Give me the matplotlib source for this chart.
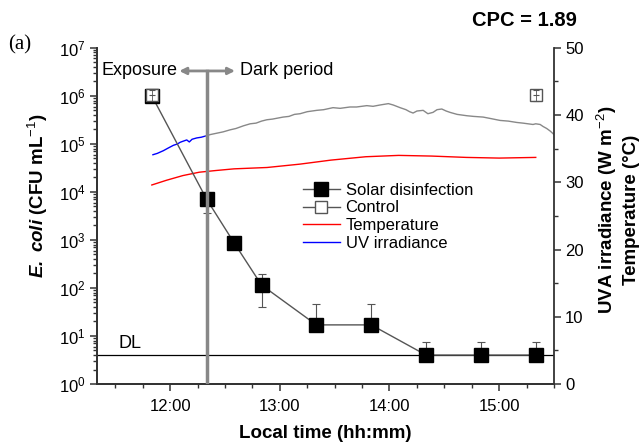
import matplotlib
matplotlib.use('Agg')
import matplotlib.pyplot as plt
import numpy as np
from matplotlib.lines import Line2D
from matplotlib.ticker import FuncFormatter, LogLocator, NullFormatter, MultipleLocator

plt.rcParams['font.family'] = ['Liberation Sans', 'DejaVu Sans']
plt.rcParams['mathtext.fontset'] = 'custom'
plt.rcParams['mathtext.rm'] = 'Liberation Sans'
plt.rcParams['mathtext.it'] = 'Liberation Sans:italic'
plt.rcParams['mathtext.bf'] = 'Liberation Sans:bold'
plt.rcParams['mathtext.bfit'] = 'Liberation Sans:italic:bold'

# E. coli counts (CFU/mL)
solar_time = ['11:50', '12:20', '12:35', '12:50', '13:20', '13:50', '14:20', '14:50', '15:20']
solar_cfu = [1.0e6, 7.0e3, 870, 115, 17, 17, 4, 4, 4]
solar_err_lo = [0, 3.4e3, 0, 75, 0, 0, 0, 0, 0]
solar_err_hi = [0, 0, 0, 80, 29, 29, 3.5, 3.5, 3.5]

control_time = ['11:50', '15:20']
control_cfu = [1.05e6, 1.05e6]
control_err = [2.5e5, 2.5e5]

detection_limit = 4

# UVA irradiance (W/m2): exposure part and dark part
uv_exp_time = ['11:50.6', '11:53', '11:56.3', '11:59', '12:01.8', '12:04', '12:05.5',
               '12:07', '12:09.1', '12:10.5', '12:12', '12:14.6', '12:17', '12:19.6']
uv_exp_val = [34.1, 34.3, 34.7, 35.1, 35.5, 35.7, 35.95, 36.1, 36.3, 36.0, 36.4, 36.6, 36.7, 36.9]

uv_dark_time = ['12:19.6', '12:22', '12:25.5', '12:29', '12:32.8', '12:36', '12:40.1',
                '12:43.8', '12:47', '12:50', '12:52.9', '12:56', '13:01.8', '13:05',
                '13:08', '13:11.1', '13:15', '13:20.2', '13:24', '13:29.1', '13:33',
                '13:38.4', '13:42', '13:47.6', '13:51', '13:54.9', '13:59.4', '14:02',
                '14:05.8', '14:09', '14:11', '14:12.9', '14:15', '14:18.4', '14:21',
                '14:23.8', '14:26', '14:28.6', '14:31', '14:33.1', '14:37', '14:42.3',
                '14:46', '14:51.2', '14:55', '15:00.5', '15:05', '15:09.6', '15:13',
                '15:18.5', '15:20', '15:22.4', '15:24', '15:26', '15:28', '15:30']
uv_dark_val = [36.9, 37.1, 37.3, 37.5, 37.8, 38.0, 38.4,
               38.7, 38.8, 39.1, 39.3, 39.4, 39.7, 39.8,
               40.1, 40.2, 40.5, 40.7, 40.8, 41.1, 41.0,
               41.2, 41.2, 41.4, 41.3, 41.5, 41.7, 41.5,
               41.1, 40.8, 40.5, 40.3, 40.6, 40.7, 40.2,
               40.4, 40.8, 40.9, 40.6, 40.4, 40.1, 39.9,
               39.8, 39.7, 39.5, 39.2, 39.1, 38.9, 38.8,
               38.6, 38.7, 38.6, 38.3, 38.0, 37.6, 37.1]

# water temperature (C)
temp_time = ['11:50', '11:58', '12:07', '12:16', '12:25', '12:35', '12:53', '13:11',
             '13:28', '13:47', '14:05', '14:23', '14:42', '15:00', '15:20']
temp_val = [29.6, 30.3, 31.0, 31.5, 31.75, 32.0, 32.2, 32.7,
            33.3, 33.8, 34.0, 33.9, 33.7, 33.6, 33.7]

dark_start = '12:20'


def hrs(s):
    h, m = s.split(':')
    return int(h) + float(m) / 60


def fmt_time(v, pos):
    h = int(v)
    m = int(round((v - h) * 60))
    if m == 60:
        h, m = h + 1, 0
    return '{:02d}:{:02d}'.format(h, m)


grey = '#555555'
axcol = '#333333'

fig = plt.figure(figsize=(6.44, 4.47), dpi=100)
ax = fig.add_axes([0.1506, 0.141, 0.7097, 0.752])
ax2 = ax.twinx()

# right axis lines
ax2.plot([hrs(t) for t in temp_time], temp_val, color='red', lw=1.0)
ax2.plot([hrs(t) for t in uv_exp_time], uv_exp_val, color='blue', lw=1.0)
ax2.plot([hrs(t) for t in uv_dark_time], uv_dark_val, color='#888888', lw=1.0)
ax2.set_ylim(0, 50)

# left axis: counts (drawn on ax2 so they sit above the right-axis lines)
st = [hrs(t) for t in solar_time]
ax2.errorbar(st, solar_cfu, yerr=[solar_err_lo, solar_err_hi], fmt='none',
             ecolor=grey, elinewidth=0.8, capsize=3, capthick=0.8, transform=ax.transData)
ax2.plot(st, solar_cfu, color=grey, lw=1.0, marker='s', ms=10, mfc='black', mec='black',
         transform=ax.transData, zorder=3)
ct = [hrs(t) for t in control_time]
ax2.plot(ct, control_cfu, ls='none', marker='s', ms=8, mfc='white', mec=grey, mew=1.0,
         transform=ax.transData, zorder=4)
ax2.errorbar(ct, control_cfu, yerr=control_err, fmt='_', ms=5, mew=0.8, color=grey,
             ecolor=grey, elinewidth=0.6, capsize=2.5, capthick=0.8,
             transform=ax.transData, zorder=5)

ax.set_yscale('log')
ax.set_ylim(1, 1e7)
ax.set_xlim(hrs('11:20'), hrs('15:30'))

ax.axhline(detection_limit, color='black', lw=0.9)
ax.text(hrs('11:32'), 4.6, 'DL', fontsize=13, va='bottom', ha='left')

# exposure / dark period marker
arrow_y = 3.3e6
ax2.plot([hrs(dark_start), hrs(dark_start)], [1, arrow_y], color='#888888', lw=2.5,
         transform=ax.transData, zorder=6)
ax.annotate('', xy=(hrs('12:05'), arrow_y), xytext=(hrs('12:35.5'), arrow_y),
            arrowprops=dict(arrowstyle='<|-|>', color='#888888', lw=2, mutation_scale=10,
                            shrinkA=0, shrinkB=0))
ax.text(hrs('12:04'), arrow_y, 'Exposure', fontsize=13, ha='right', va='center')
ax.text(hrs('12:38'), arrow_y, 'Dark period', fontsize=13, ha='left', va='center')

# ticks
ax.xaxis.set_major_locator(MultipleLocator(1))
ax.xaxis.set_minor_locator(MultipleLocator(0.25))
ax.xaxis.set_major_formatter(FuncFormatter(fmt_time))
ax.yaxis.set_major_locator(LogLocator(base=10, numticks=20))
ax.yaxis.set_minor_locator(LogLocator(base=10, subs=np.arange(2, 10), numticks=100))
ax.yaxis.set_minor_formatter(NullFormatter())
ax2.yaxis.set_major_locator(MultipleLocator(10))
ax2.yaxis.set_minor_locator(MultipleLocator(5))

for a in (ax, ax2):
    a.tick_params(which='major', direction='out', length=5, width=1.1, color=axcol,
                  labelsize=12, pad=3)
    a.tick_params(which='minor', direction='out', length=3, width=1.0, color=axcol)
    a.spines['top'].set_visible(False)
    for s in a.spines.values():
        s.set_color(axcol)
        s.set_linewidth(1.3)
ax.spines['right'].set_visible(False)
ax.tick_params(axis='x', which='major', pad=6)

ax.set_xlabel('Local time (hh:mm)', fontsize=13.5, fontweight='bold', labelpad=8)
ax.set_ylabel(r'$\mathbfit{E.\ coli}$ (CFU mL$^{-1}$)', fontsize=13.5, fontweight='bold')
ax.yaxis.set_label_coords(-0.103, 0.56)

fig.text(607 / 644, 1 - 210 / 447, r'UVA irradiance (W m$^{-2}$)', rotation=90,
         fontsize=13.5, fontweight='bold', ha='center', va='center')
fig.text(632 / 644, 1 - 210 / 447, 'Temperature (°C)', rotation=90,
         fontsize=13.5, fontweight='bold', ha='center', va='center')

fig.text(8 / 644, 1 - 45 / 447, '(a)', family='Liberation Serif', fontsize=15,
         ha='left', va='center')
fig.text(577 / 644, 1 - 21 / 447, 'CPC = 1.89', fontsize=14.5, fontweight='bold',
         ha='right', va='center')

handles = [
    Line2D([], [], color=grey, lw=1.0, marker='s', ms=10, mfc='black', mec='black'),
    Line2D([], [], color=grey, lw=1.0, marker='s', ms=8, mfc='white', mec=grey),
    Line2D([], [], color='red', lw=1.0),
    Line2D([], [], color='blue', lw=1.0),
]
labels = ['Solar disinfection', 'Control', 'Temperature', 'UV irradiance']
ax2.legend(handles, labels, loc='upper left', bbox_to_anchor=(303 / 644, 1 - 183 / 447),
           bbox_transform=fig.transFigure, frameon=False, fontsize=12, borderpad=0,
           borderaxespad=0, handlelength=2.2, handletextpad=0.35, labelspacing=0.15)

fig.savefig('out.png', dpi=100)
